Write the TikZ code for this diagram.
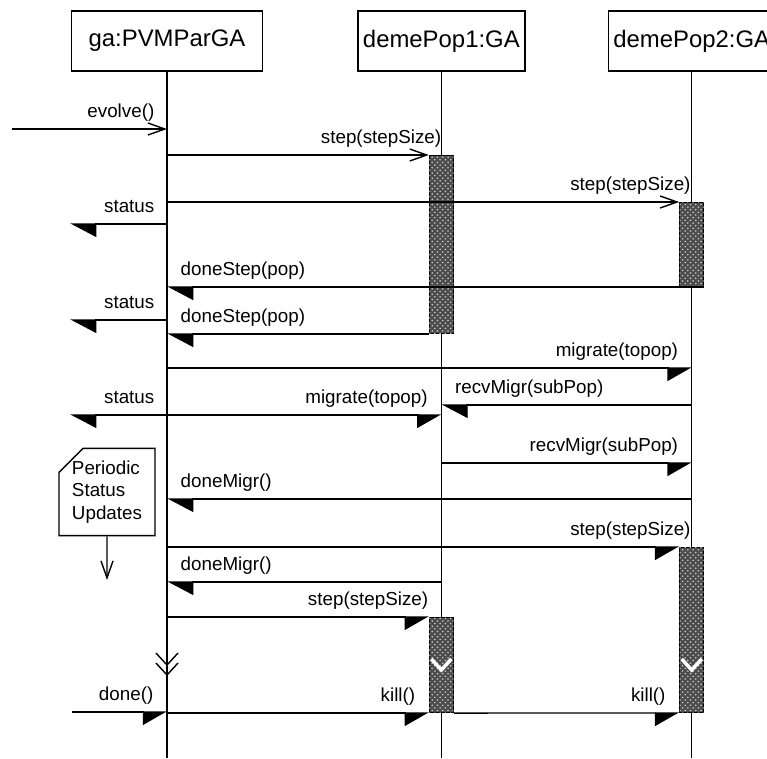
\documentclass[tikz,border=0pt]{standalone}
\usepackage{fontspec}
\setmainfont{Liberation Sans}
\usetikzlibrary{arrows.meta,positioning,calc,shapes.misc,patterns}
\newcommand\msgfont{\fontsize{10.7}{13}\selectfont}
\newcommand\objfont{\fontsize{13.6}{16}\selectfont}
\tikzset{
  obj/.style={draw,line width=0.8pt,minimum height=1.2cm,inner xsep=1pt,font=\objfont},
  life/.style={line width=0.6pt},
  actbar/.style={draw,line width=0.6pt,fill=black!70,postaction={pattern=crosshatch dots,pattern color=white!80!black},
    minimum width=0.48cm,inner sep=0pt,anchor=north},
  lbl/.style={font=\msgfont,inner sep=0pt,yshift=0.23cm},
  opn/.style={line width=0.8pt,-{Straight Barb[length=3.4mm,width=2.4mm]}},
  hr/.style={line width=0.8pt,-{Stealth[inset=0pt,length=4.6mm,width=5.2mm,harpoon,swap]}},
  hl/.style={line width=0.8pt,-{Stealth[inset=0pt,length=5mm,width=5.2mm,harpoon]}},
  notebox/.style={draw,line width=0.8pt,chamfered rectangle,chamfered rectangle corners=north west,
    chamfered rectangle xsep=0.24cm,chamfered rectangle ysep=0.24cm,
    minimum width=1.92cm,minimum height=1.66cm,align=left,font=\msgfont,inner sep=0pt},
}
\begin{document}
\begin{tikzpicture}[x=0.02cm,y=-0.02cm]
\useasboundingbox (0,0) rectangle (767,758);
% objects
\node[obj,minimum width=3.82cm] (ga) at (167,41) {ga:PVMParGA};
\node[obj,minimum width=3.34cm,right=1.88cm of ga] (dp1) {demePop1:GA};
\node[obj,minimum width=3.34cm,right=1.64cm of dp1] (dp2) {demePop2:GA};
\coordinate (bottom) at (0,758);
\foreach \o in {ga,dp1,dp2}
  \draw[life] (\o.south) -- (\o.south |- bottom);
% activations
\node[actbar,minimum height=3.56cm] (bar1) at (dp1.south |- 0,155) {};
\node[actbar,minimum height=1.68cm] (bar2) at (dp2.south |- 0,202) {};
\node[actbar,minimum height=3.3cm] (bar3) at (dp2.south |- 0,547) {};
\node[actbar,minimum height=1.9cm] (bar4) at (dp1.south |- 0,617) {};
\foreach \b in {bar3,bar4}
  \draw[white,line width=2pt] ($(\b.center |- 0,659)+(-10,0)$) -- ++(10,11) -- ++(10,-11);
\foreach \y in {653,663}
  \draw[line width=0.8pt] ($(ga.south |- 0,\y)+(-11,0)$) -- ++(11,12) -- ++(11,-12);
% free ends
\coordinate (evin) at (12,129);
\coordinate (st1) at (70,224);
\coordinate (st2) at (70,320);
\coordinate (st3) at (70,415);
\coordinate (donein) at (72,712);
% messages
\draw[opn] (evin) -- (ga.south |- evin) node[lbl,pos=1,anchor=base east,xshift=-0.24cm] {evolve()};
\draw[opn] (ga.south |- bar1.north) -- (bar1.north west) node[lbl,pos=1,anchor=base east,xshift=0.26cm] {step(stepSize)};
\draw[opn] (ga.south |- bar2.north) -- (bar2.north west) node[lbl,pos=1,anchor=base east,xshift=0.24cm] {step(stepSize)};
\draw[hl] (ga.south |- st1) -- (st1) node[lbl,pos=0,anchor=base east,xshift=-0.24cm] {status};
\draw[hl] (bar2.south east) -- (ga.south |- bar2.south) node[lbl,pos=1,anchor=base west,xshift=0.26cm] {doneStep(pop)};
\draw[hl] (ga.south |- st2) -- (st2) node[lbl,pos=0,anchor=base east,xshift=-0.24cm] {status};
\draw[hl] (bar1.south west) -- (ga.south |- bar1.south) node[lbl,pos=1,anchor=base west,xshift=0.26cm] {doneStep(pop)};
\draw[hr] (ga.south |- 0,368) -- (dp2.south |- 0,368) node[lbl,pos=1,anchor=base east,xshift=-0.26cm] {migrate(topop)};
\draw[hl] (dp2.south |- 0,405) -- (dp1.south |- 0,405) node[lbl,pos=1,anchor=base west,xshift=0.26cm] {recvMigr(subPop)};
\draw[hl] (ga.south |- st3) -- (st3) node[lbl,pos=0,anchor=base east,xshift=-0.24cm] {status};
\draw[hr] (ga.south |- st3) -- (dp1.south |- st3) node[lbl,pos=1,anchor=base east,xshift=-0.26cm] {migrate(topop)};
\draw[hr] (dp1.south |- 0,463) -- (dp2.south |- 0,463) node[lbl,pos=1,anchor=base east,xshift=-0.26cm] {recvMigr(subPop)};
\draw[hl] (dp2.south |- 0,499) -- (ga.south |- 0,499) node[lbl,pos=1,anchor=base west,xshift=0.26cm] {doneMigr()};
\draw[hr] (ga.south |- bar3.north) -- (bar3.north west) node[lbl,pos=1,anchor=base east,xshift=0.24cm] {step(stepSize)};
\draw[hl] (dp1.south |- 0,582) -- (ga.south |- 0,582) node[lbl,pos=1,anchor=base west,xshift=0.26cm] {doneMigr()};
\draw[hr] (ga.south |- bar4.north) -- (bar4.north west) node[lbl,pos=1,anchor=base east] {step(stepSize)};
\draw[hr] (donein) -- (ga.south |- donein) node[lbl,pos=1,anchor=base east,xshift=-0.26cm] {done()};
\draw[hr] (ga.south |- bar4.south) -- (bar4.south west) node[lbl,pos=1,anchor=base east,xshift=-0.26cm] {kill()};
\draw[hr] (bar4.south east) -- (bar3.south west) node[lbl,pos=1,anchor=base east,xshift=-0.26cm] {kill()};
% note
\node[notebox] (note) at (107,492) {Periodic\\Status\\Updates};
\coordinate (noteend) at (note.south |- 0,580);
\draw[opn] (note) -- (noteend);
\end{tikzpicture}
\end{document}
